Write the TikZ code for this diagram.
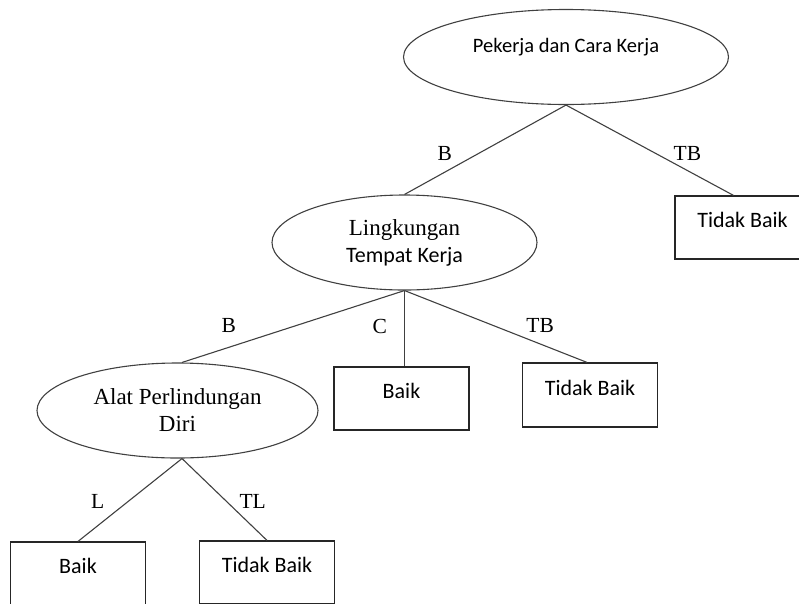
\documentclass[tikz,border=0pt]{standalone}
\usepackage{fontspec}
\setmainfont{Liberation Serif}
\newfontfamily\calibri{Carlito}
\usetikzlibrary{shapes.geometric}
\usetikzlibrary{positioning}
\def\leafW{135pt}
\def\leafH{63pt}

\tikzset{
  pill/.style={ellipse, draw=black!75, line width=1.1pt, minimum width=#1,
    minimum height=95pt, inner sep=0pt, align=center,
    font=\fontsize{23}{27}\selectfont},
  leaf/.style={rectangle, draw=black!85, line width=1.2pt, minimum width=\leafW,
    minimum height=\leafH, inner sep=0pt, text height=11pt, text depth=11pt,
    font=\calibri\fontsize{22}{26}\selectfont},
  branch/.style={draw=black!75, line width=1.1pt},
  lbl/.style={inner sep=0pt, font=\fontsize{21.5}{24}\selectfont},
}

\begin{document}
\begin{tikzpicture}[x=1pt, y=-1pt]
        \useasboundingbox (0,0) rectangle (799,603);

        % ellipses
        \node[pill=325pt, text height=12pt, text depth=22pt,
              font=\calibri\fontsize{20.5}{24}\selectfont] (kerja) at (566,57)
              {Pekerja dan Cara Kerja};
        \node[pill=265pt] (lingkungan) at (404.5,242.5)
              {Lingkungan\\{\calibri\fontsize{22}{26}\selectfont Tempat Kerja}};
        \node[pill=281pt] (apd) at (177.5,410.5) {Alat Perlindungan\\Diri};

        % leaves
        \node[leaf] (tidak1) at (742.5,227.5) {Tidak Baik};
        \node[leaf] (baik2) at (401.5,398.5) {Baik};
        \node[leaf, minimum height=64pt] (tidak2) at (590,395) {Tidak Baik};
        \node[leaf] (baik3) at (78,573.5) {Baik};
        \node[leaf] (tidak3) at (267,572.5) {Tidak Baik};

        % branches
        \draw[branch] (kerja.south) -- node[lbl, pos=0.75, above=11pt] {B}
            (lingkungan.north);
        \draw[branch] (kerja.south) -- node[lbl, pos=0.725, above=9pt] {TB}
            ([xshift=-9pt]tidak1.north);

        \draw[branch] (lingkungan.south) -- node[lbl, pos=0.79, above=14pt] {B}
            ([xshift=4.5pt]apd.north);
        \draw[branch] (lingkungan.south) -- node[lbl, pos=0.48, left=17pt] {C}
            (lingkungan.south |- baik2.north);
        \draw[branch] (lingkungan.south) -- node[lbl, pos=0.743, above=10.5pt] {TB}
            ([xshift=-3pt]tidak2.north);

        \draw[branch] ([xshift=4.5pt]apd.south) -- node[lbl, pos=0.52, left=23pt] {L}
            (baik3.north);
        \draw[branch] ([xshift=4.5pt]apd.south) -- node[lbl, pos=0.53, right=12pt] {TL}
            (tidak3.north);
\end{tikzpicture}
\end{document}
